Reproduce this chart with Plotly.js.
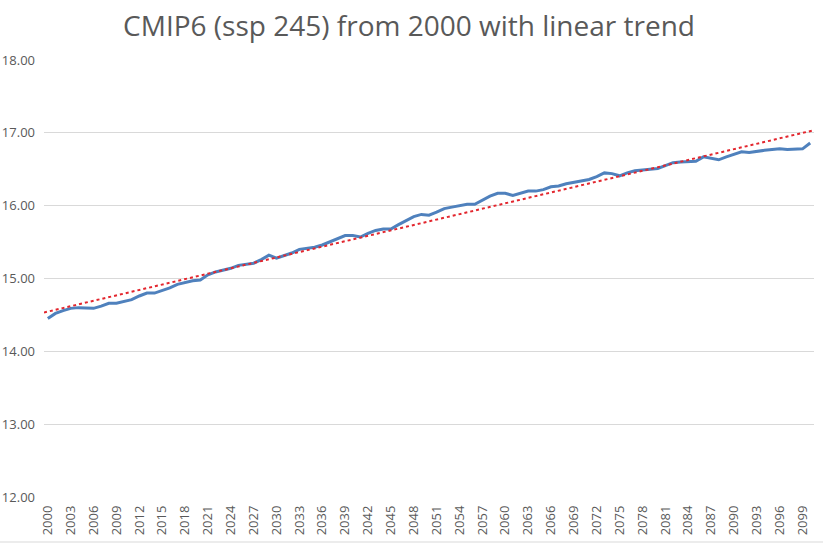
<!DOCTYPE html>
<html>
<head>
<meta charset="utf-8">
<script src="https://cdn.plot.ly/plotly-3.0.1.min.js"></script>
<style>html,body{margin:0;padding:0;background:#fff}#chart{width:823px;height:550px}</style>
</head>
<body>
<div id="chart"></div>
<script>
const startYear = 2000;
const temperature = [
 14.45,14.52,14.56,14.59,14.60,14.60,14.59,14.62,14.66,14.66,
 14.69,14.71,14.76,14.80,14.80,14.83,14.87,14.92,14.95,14.97,
 14.98,15.05,15.09,15.11,15.14,15.18,15.20,15.21,15.26,15.32,
 15.28,15.31,15.35,15.40,15.41,15.43,15.46,15.50,15.55,15.59,
 15.59,15.57,15.62,15.66,15.68,15.68,15.74,15.80,15.85,15.88,
 15.87,15.91,15.96,15.98,16.00,16.02,16.02,16.08,16.13,16.17,
 16.17,16.14,16.17,16.20,16.20,16.22,16.26,16.27,16.30,16.32,
 16.33,16.36,16.40,16.45,16.44,16.41,16.45,16.48,16.49,16.50,
 16.51,16.55,16.59,16.60,16.60,16.61,16.67,16.65,16.63,16.67,
 16.71,16.74,16.73,16.75,16.76,16.77,16.78,16.77,16.77,16.78,
 16.86
];
const years = temperature.map((_, i) => startYear + i);
const yTickVals = [12, 13, 14, 15, 16, 17, 18];
const yTickText = ["12.00","13.00","14.00","15.00","16.00","17.00","18.00"];

// least squares linear trend
const n = years.length;
const mx = years.reduce((a,b)=>a+b,0)/n;
const my = temperature.reduce((a,b)=>a+b,0)/n;
let sxy=0, sxx=0;
for (let i=0;i<n;i++){ sxy += (years[i]-mx)*(temperature[i]-my); sxx += (years[i]-mx)**2; }
const slope = sxy/sxx, icpt = my - slope*mx;
const trendX = [years[0]-0.5, years[n-1]+0.5];
const trendY = trendX.map(x => icpt + slope*x);

const gray = '#595959';
const data = [
 {x: years, y: temperature, type:'scatter', mode:'lines', name:'CMIP6',
  line:{color:'#4f81bd', width:3}, hoverinfo:'x+y'},
 {x: trendX, y: trendY, type:'scatter', mode:'lines', name:'Linear trend',
  line:{color:'#e3262e', width:2, dash:'dot'}, hoverinfo:'skip'}
];
const layout = {
 width:823, height:550,
 margin:{l:44, r:9, t:60, b:53},
 paper_bgcolor:'#fff', plot_bgcolor:'#fff',
 showlegend:false,
 font:{family:'"Open Sans", "Noto Sans", sans-serif', color:gray},
 title:{text:'CMIP6 (ssp 245) from 2000 with linear trend', x:0.497, xref:'container', xanchor:'center',
        y:0.953, yanchor:'middle',
        font:{size:28, color:gray, family:'"Open Sans", sans-serif'}},
 xaxis:{range:[1999.5, 2100.5], tickmode:'linear', tick0:2000, dtick:3, tickangle:-90,
        showgrid:false, zeroline:false, showline:false, ticks:'', tickfont:{size:13, color:gray},
        ticklabelstandoff:5, fixedrange:true},
 yaxis:{range:[12, 18], tickvals:yTickVals, ticktext:yTickText, showgrid:true, gridcolor:'#d9d9d9',
        gridwidth:1, zeroline:false, showline:false, ticks:'', tickfont:{size:13, color:gray},
        ticklabelstandoff:8, fixedrange:true},
 shapes:[{type:'line', xref:'paper', yref:'paper', x0:-0.06, x1:1.02, y0:-0.103, y1:-0.103,
          line:{color:'#d9d9d9', width:1}}]
};
Plotly.newPlot('chart', data, layout, {displayModeBar:false, staticPlot:false});
</script>
</body>
</html>
